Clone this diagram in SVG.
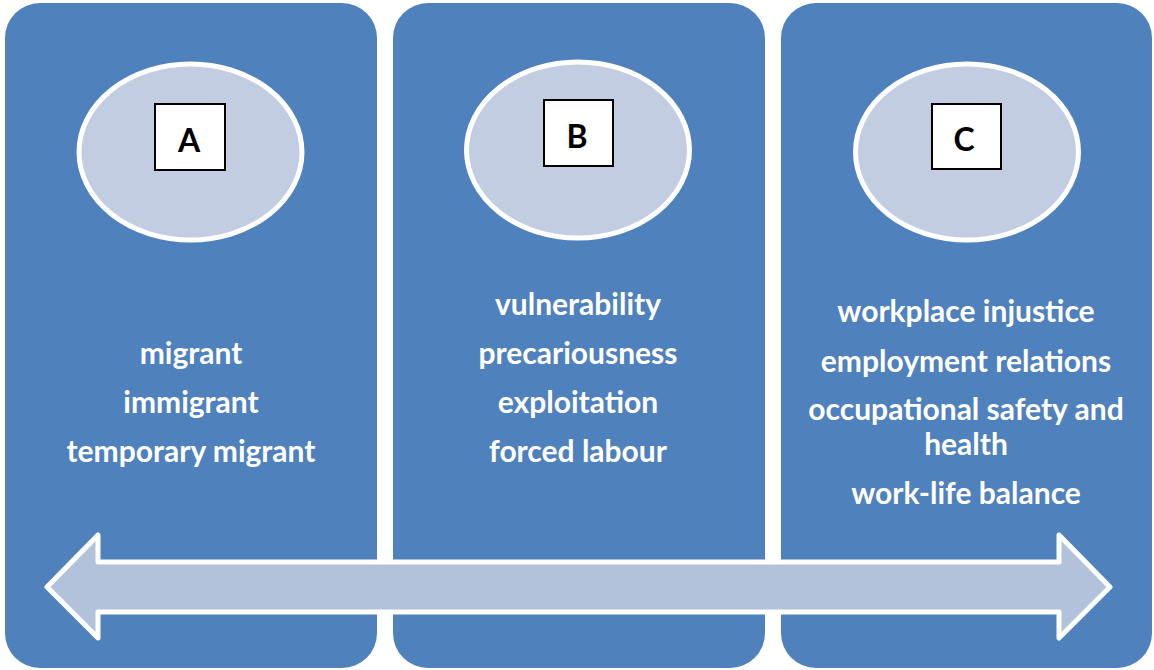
<svg xmlns="http://www.w3.org/2000/svg" width="1154" height="670" viewBox="0 0 1154 670">
<style>
.panel{fill:#4F81BD;}
.ell{fill:#C3CDE1;stroke:#FFFFFF;stroke-width:5;}
.box{fill:#FFFFFF;stroke:#000000;stroke-width:2;}
.letter{font-family:Lato,"Liberation Sans",sans-serif;font-weight:bold;font-size:32px;fill:#000000;text-anchor:middle;}
.lbl{font-family:Lato,"Liberation Sans",sans-serif;font-weight:bold;font-size:30px;fill:#FFFFFF;text-anchor:middle;}
.arrow{fill:#B3C2DB;stroke:#FFFFFF;stroke-width:5;stroke-linejoin:round;}
</style>
<rect width="1154" height="670" fill="#FFFFFF"/>
<g id="panelA">
<rect class="panel" x="5" y="3" width="372" height="665" rx="35" ry="35"/>
<ellipse class="ell" cx="190.5" cy="152" rx="111.5" ry="88"/>
<rect class="box" x="155" y="104" width="70" height="66"/>
<text class="letter" x="189" y="152">A</text>
<text class="lbl" x="191" y="364">migrant</text>
<text class="lbl" x="191" y="413">immigrant</text>
<text class="lbl" x="191" y="462">temporary migrant</text>
</g>
<g id="panelB">
<rect class="panel" x="393" y="3" width="372" height="665" rx="35" ry="35"/>
<ellipse class="ell" cx="578" cy="150" rx="111.5" ry="88"/>
<rect class="box" x="544" y="100" width="69" height="66"/>
<text class="letter" x="577" y="148">B</text>
<text class="lbl" x="578" y="315">vulnerability</text>
<text class="lbl" x="578" y="364">precariousness</text>
<text class="lbl" x="578" y="413">exploitation</text>
<text class="lbl" x="578" y="462">forced labour</text>
</g>
<g id="panelC">
<rect class="panel" x="781" y="3" width="371" height="665" rx="35" ry="35"/>
<ellipse class="ell" cx="967" cy="152" rx="111.5" ry="88"/>
<rect class="box" x="932" y="104" width="69" height="65"/>
<text class="letter" x="964" y="151">C</text>
<text class="lbl" x="966" y="322">workplace injustice</text>
<text class="lbl" x="966" y="372">employment relations</text>
<text class="lbl" x="966" y="420">occupational safety and</text>
<text class="lbl" x="966" y="455">health</text>
<text class="lbl" x="966" y="504">work-life balance</text>
</g>
<g id="connectors">
<path class="arrow" d="M47,587 L98,535 L98,562 L1059,562 L1059,535 L1110,587 L1059,638 L1059,612 L98,612 L98,638 Z"/>
</g>
</svg>
